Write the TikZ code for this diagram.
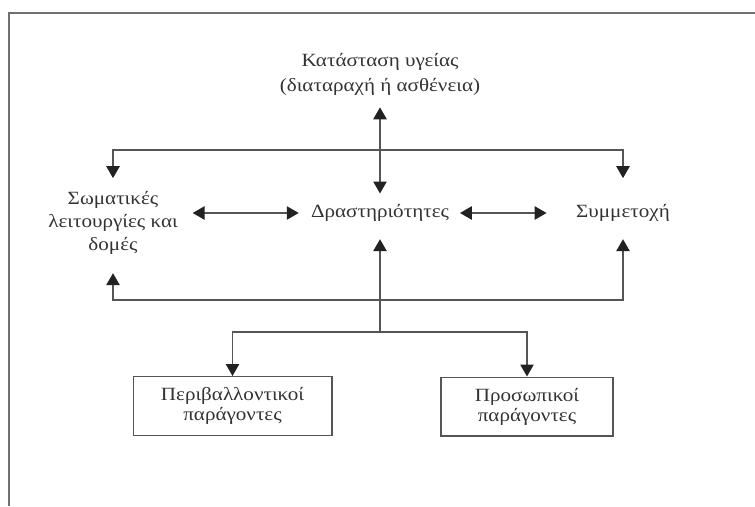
\documentclass[tikz,border=0pt]{standalone}
\usepackage{fontspec}
\setmainfont[FakeStretch=1.13]{Liberation Serif}
\usetikzlibrary{arrows.meta}
\definecolor{ln}{HTML}{555555}
\definecolor{tip}{HTML}{222222}
\definecolor{tx}{HTML}{333333}
\definecolor{fr}{HTML}{707070}
\tikzset{
  txt/.style={align=center,text=tx,inner sep=0pt},
  boxnode/.style={draw=ln,line width=1pt,align=center,text=tx,font=\fontsize{14}{15}\selectfont,minimum height=44pt},
  conn/.style={draw=ln,line width=1.2pt},
  arr/.style={conn,-{Triangle[length=9pt,width=10pt,color=tip]}},
  dbl/.style={conn,{Triangle[length=9pt,width=10pt,color=tip]}-{Triangle[length=9pt,width=10pt,color=tip]}},
}
\begin{document}
\begin{tikzpicture}[x=0.75pt,y=-0.75pt]
\useasboundingbox (0,0) rectangle (755,506);
\draw[fr,line width=1.5pt] (755,13) -- (9,13) -- (9,506);
\node[txt,font=\fontsize{14}{18.75}\selectfont] (health) at (380,74) {Κατάσταση υγείας\\(διαταραχή ή ασθένεια)};
\node[txt,font=\fontsize{14}{17}\selectfont] (act) at (380,213) {Δραστηριότητες};
\node[txt,font=\fontsize{14}{17}\selectfont] (body) at (113,223) {Σωματικές\\λειτουργίες και\\δομές};
\node[txt,font=\fontsize{14}{17}\selectfont] (part) at (623,213) {Συμμετοχή};
\node[boxnode,minimum width=149pt] (env) at (232.5,406) {Περιβαλλοντικοί\\παράγοντες};
\node[boxnode,minimum width=129pt] (pers) at (527,406.5) {Προσωπικοί\\παράγοντες};
\coordinate (hubA) at (380,150);
\coordinate (hubB) at (380,300);
\coordinate (hubC) at (380,332);
% top
\draw[dbl,shorten <=9pt,shorten >=8pt] (health.south) -- (act.north);
\draw[arr] (hubA) -| ([yshift=10pt]body.north);
\draw[arr] (hubA) -| ([yshift=19.5pt]part.north);
% horizontal
\draw[dbl,shorten <=11pt,shorten >=9pt] (body.east |- act.west) -- (act.west);
\draw[dbl,shorten <=8pt,shorten >=22pt] (act.east) -- (part.west);
% bottom
\draw[arr] (hubB) -| ([yshift=-14pt]body.south);
\draw[arr] (hubB) -| ([yshift=-13pt]part.south);
\draw[arr] (hubC) -- ([yshift=-13pt]act.south);
\draw[arr] (hubC) -| (env.north);
\draw[arr] (hubC) -| (pers.north);
\end{tikzpicture}
\end{document}
